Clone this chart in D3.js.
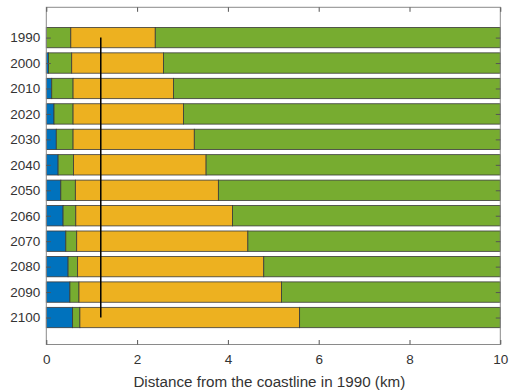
<!DOCTYPE html>
<html>
<head>
<meta charset="utf-8">
<script src="https://cdn.jsdelivr.net/npm/d3@7"></script>
<style>
  html, body { margin: 0; padding: 0; background: #fff; }
  svg { display: block; font-family: "Liberation Sans", Arial, Helvetica, sans-serif; }
</style>
</head>
<body>
<svg id="chart" width="509" height="392"></svg>
<script>
// Years shown on the vertical axis
const years = [1990, 2000, 2010, 2020, 2030, 2040, 2050, 2060, 2070, 2080, 2090, 2100];
// Width of each zone along the transect (km), stacked left to right
const waterWidth  = [0.00, 0.05, 0.12, 0.17, 0.22, 0.26, 0.32, 0.37, 0.43, 0.48, 0.52, 0.58];
const marshWidth  = [0.54, 0.51, 0.47, 0.42, 0.37, 0.34, 0.32, 0.28, 0.24, 0.21, 0.20, 0.16];
const sandWidth   = [1.86, 2.02, 2.21, 2.43, 2.67, 2.92, 3.15, 3.45, 3.77, 4.10, 4.46, 4.84];
const totalLength = 10;
// Reference distance marked by the vertical line (km)
const markerDistance = 1.2;
const xTicks = [0, 2, 4, 6, 8, 10];

const colors = ["#0072BD", "#77AC30", "#EDB120", "#77AC30"];

const svg = d3.select("#chart");
const plotLeft = 46.3, plotRight = 500.3, plotTop = 7.3, plotBottom = 344.5;

const x = d3.scaleLinear().domain([0, 10]).range([plotLeft, plotRight]);
const y = d3.scaleLinear().domain([1978.1, 2110.6]).range([plotTop, plotBottom]);
const barHalf = 4; // bar thickness of 0.8 of the 10-year spacing

// Build stacked segments for each year
const rows = years.map((yr, i) => {
  const w = [waterWidth[i], marshWidth[i], sandWidth[i]];
  const used = w[0] + w[1] + w[2];
  w.push(totalLength - used);
  let acc = 0;
  return w.map((v, k) => {
    const seg = { year: yr, x0: acc, x1: acc + v, k };
    acc += v;
    return seg;
  });
});

const g = svg.append("g");
g.selectAll("g.row")
  .data(rows)
  .join("g").attr("class", "row")
  .selectAll("rect")
  .data(d => d.filter(s => s.x1 > s.x0))
  .join("rect")
  .attr("x", d => x(d.x0))
  .attr("width", d => x(d.x1) - x(d.x0))
  .attr("y", d => y(d.year - barHalf))
  .attr("height", d => y(d.year + barHalf) - y(d.year - barHalf))
  .attr("fill", d => colors[d.k])
  .attr("stroke", "#3a3a3a")
  .attr("stroke-width", 0.8);

// Vertical reference line
svg.append("line")
  .attr("x1", x(markerDistance)).attr("x2", x(markerDistance))
  .attr("y1", y(years[0])).attr("y2", y(years[years.length - 1]))
  .attr("stroke", "#000").attr("stroke-width", 1.5);

// Axes box
svg.append("rect")
  .attr("x", plotLeft).attr("y", plotTop)
  .attr("width", plotRight - plotLeft).attr("height", plotBottom - plotTop)
  .attr("fill", "none").attr("stroke", "#8a8a8a").attr("stroke-width", 1);

const tickLen = 4.5;
const tickColor = "#555";
const labelFont = "13.5px";

// Bottom axis with inward ticks
const xAxis = d3.axisBottom(x).tickValues(xTicks).tickSizeInner(-tickLen).tickSizeOuter(0).tickPadding(10);
const xg = svg.append("g").attr("transform", `translate(0,${plotBottom})`).call(xAxis);
xg.select(".domain").remove();
xg.selectAll(".tick line").attr("stroke", tickColor);
xg.selectAll(".tick text").attr("fill", "#333").style("font-size", labelFont)
  .style("font-family", "'Liberation Sans', Arial, sans-serif");

// Top axis ticks (mirror)
const xTop = d3.axisTop(x).tickValues(xTicks).tickSizeInner(-tickLen).tickSizeOuter(0).tickFormat("");
const xtg = svg.append("g").attr("transform", `translate(0,${plotTop})`).call(xTop);
xtg.select(".domain").remove();
xtg.selectAll(".tick line").attr("stroke", tickColor);

// Left axis with year labels
const yAxis = d3.axisLeft(y).tickValues(years).tickFormat(d3.format("d")).tickSizeInner(-tickLen).tickSizeOuter(0).tickPadding(6);
const yg = svg.append("g").attr("transform", `translate(${plotLeft},0)`).call(yAxis);
yg.select(".domain").remove();
yg.selectAll(".tick line").attr("stroke", tickColor);
yg.selectAll(".tick text").attr("fill", "#333").style("font-size", labelFont)
  .style("font-family", "'Liberation Sans', Arial, sans-serif");

// Right axis ticks (mirror)
const yRight = d3.axisRight(y).tickValues(years).tickSizeInner(-tickLen).tickSizeOuter(0).tickFormat("");
const yrg = svg.append("g").attr("transform", `translate(${plotRight},0)`).call(yRight);
yrg.select(".domain").remove();
yrg.selectAll(".tick line").attr("stroke", tickColor);

// Axis title
svg.append("text")
  .attr("x", (plotLeft + plotRight) / 2 - 4).attr("y", 387)
  .attr("text-anchor", "middle")
  .attr("fill", "#333")
  .style("font-size", "15.2px")
  .text("Distance from the coastline in 1990 (km)");
</script>
</body>
</html>
